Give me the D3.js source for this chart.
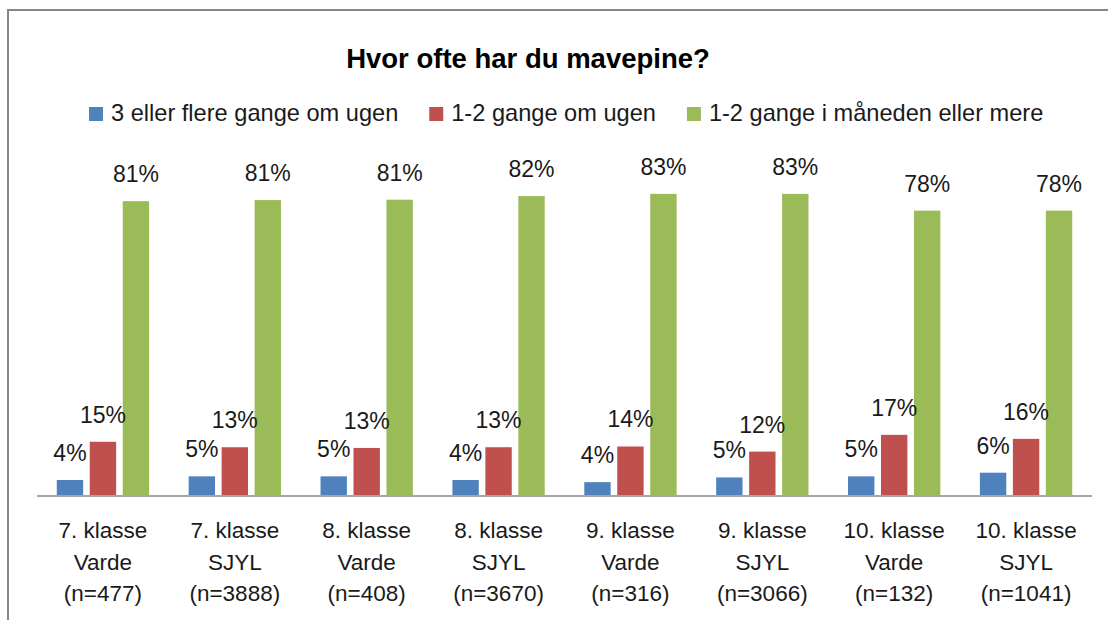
<!DOCTYPE html>
<html>
<head>
<meta charset="utf-8">
<script src="https://cdn.jsdelivr.net/npm/d3@7"></script>
<style>
  body { margin: 0; background: #fff; }
  svg text { font-family: "Liberation Sans", Arial, sans-serif; fill: #1a1a1a; }
</style>
</head>
<body>
<div id="chart"></div>
<script>
// Chart data
const title = "Hvor ofte har du mavepine?";
const seriesNames = [
  "3 eller flere gange om ugen",
  "1-2 gange om ugen",
  "1-2 gange i måneden eller mere",
];
const categoryLines = [
  ["7. klasse", "Varde", "(n=477)"],
  ["7. klasse", "SJYL", "(n=3888)"],
  ["8. klasse", "Varde", "(n=408)"],
  ["8. klasse", "SJYL", "(n=3670)"],
  ["9. klasse", "Varde", "(n=316)"],
  ["9. klasse", "SJYL", "(n=3066)"],
  ["10. klasse", "Varde", "(n=132)"],
  ["10. klasse", "SJYL", "(n=1041)"],
];
const threeOrMore = [4.4, 5.4, 5.4, 4.4, 3.8, 5.1, 5.4, 6.4];
const oneTwoWeek = [14.9, 13.4, 13.2, 13.4, 13.6, 12.2, 16.8, 15.7];
const oneTwoMonth = [81.0, 81.3, 81.4, 82.4, 83.0, 83.0, 78.4, 78.4];

const colors = ["#4F81BD", "#C0504D", "#9BBB59"];
const seriesValues = [threeOrMore, oneTwoWeek, oneTwoMonth];

const width = 1108;
const height = 620;

const svg = d3
  .select("#chart")
  .append("svg")
  .attr("width", width)
  .attr("height", height);

// outer chart border (runs off the right and bottom edge)
svg
  .append("rect")
  .attr("x", 8)
  .attr("y", 10)
  .attr("width", 1200)
  .attr("height", 800)
  .attr("fill", "none")
  .attr("stroke", "#878787")
  .attr("stroke-width", 2);

const plot = { left: 37, right: 1092, bottom: 496, top: 132 };

const x0 = d3
  .scaleBand()
  .domain(d3.range(categoryLines.length))
  .range([plot.left, plot.right])
  .padding(0);

const x1 = d3
  .scaleBand()
  .domain(d3.range(seriesNames.length))
  .range([0, x0.bandwidth()])
  .paddingInner(0.2)
  .paddingOuter(0.6);

const y = d3.scaleLinear().domain([0, 100]).range([plot.bottom, plot.top]);

// title
svg
  .append("text")
  .attr("x", 528)
  .attr("y", 68)
  .attr("text-anchor", "middle")
  .style("font-size", "27.5px")
  .style("font-weight", "bold")
  .style("fill", "#000")
  .text(title);

// legend, laid out left to right
let lx = 89;
seriesNames.forEach((name, i) => {
  const g = svg.append("g").attr("class", "legend-item");
  g.append("rect")
    .attr("x", lx)
    .attr("y", 107)
    .attr("width", 14)
    .attr("height", 14)
    .attr("fill", colors[i]);
  const t = g
    .append("text")
    .attr("x", lx + 22)
    .attr("y", 121)
    .style("font-size", "23.6px")
    .text(name);
  lx += 22 + t.node().getComputedTextLength() + 31;
});

// bars
const barData = seriesValues.flatMap((vals, s) =>
  vals.map((v, c) => ({ s, c, v }))
);

svg
  .selectAll(".bar")
  .data(barData)
  .enter()
  .append("rect")
  .attr("class", "bar")
  .attr("x", (d) => x0(d.c) + x1(d.s))
  .attr("y", (d) => y(d.v))
  .attr("width", x1.bandwidth())
  .attr("height", (d) => y(0) - y(d.v))
  .attr("fill", (d) => colors[d.s]);

// value labels
svg
  .selectAll(".value-label")
  .data(barData)
  .enter()
  .append("text")
  .attr("class", "value-label")
  .attr("x", (d) => x0(d.c) + x1(d.s) + x1.bandwidth() / 2)
  .attr("y", (d) => y(d.v) - 19)
  .attr("text-anchor", "middle")
  .style("font-size", "23px")
  .text((d) => Math.round(d.v) + "%");

// category axis line
svg
  .append("line")
  .attr("x1", plot.left)
  .attr("x2", plot.right)
  .attr("y1", plot.bottom)
  .attr("y2", plot.bottom)
  .attr("stroke", "#a6a6a6")
  .attr("stroke-width", 2);

// category labels (three lines each)
const catLabel = svg
  .selectAll(".cat-label")
  .data(categoryLines)
  .enter()
  .append("text")
  .attr("class", "cat-label")
  .attr("text-anchor", "middle")
  .style("font-size", "22.5px");

catLabel
  .selectAll("tspan")
  .data((d, i) => d.map((line) => ({ line, i })))
  .enter()
  .append("tspan")
  .attr("x", (d) => x0(d.i) + x0.bandwidth() / 2)
  .attr("y", (d, j) => 538 + j * 31.7)
  .text((d) => d.line);
</script>
</body>
</html>
